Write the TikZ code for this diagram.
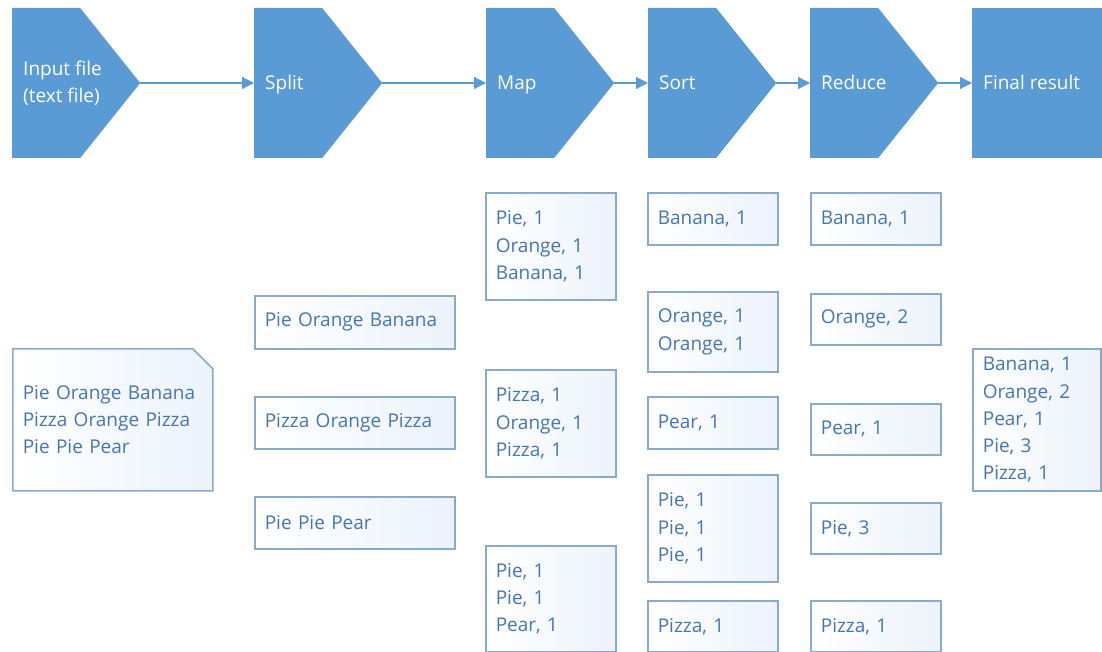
\documentclass[tikz,border=0pt]{standalone}
\usepackage{fontspec}
\setmainfont{Open Sans}
\usetikzlibrary{arrows.meta, shapes.symbols, shapes.misc}

\definecolor{stageblue}{RGB}{91,155,213}
\definecolor{boxline}{RGB}{136,170,207}
\definecolor{boxtext}{RGB}{70,118,178}
\definecolor{boxshade}{RGB}{236,243,251}

\tikzset{
    stage/.style={shape=signal, signal to=east, signal from=nowhere,
        signal pointer angle=102.7, fill=stageblue, draw=none,
        minimum height=150pt, minimum width=128pt, inner sep=0pt, anchor=west},
    stagelast/.style={rectangle, fill=stageblue, draw=none,
        minimum height=150pt, minimum width=130pt, inner sep=0pt, anchor=west},
    stagetext/.style={text=white, anchor=base west, align=left, inner sep=0pt,
        font=\fontsize{19}{27}\selectfont},
    flow/.style={draw=stageblue, line width=1.2pt, -{Triangle[length=12pt, width=12pt]}},
    kv/.style={rectangle, draw=boxline, line width=1.6pt, left color=white,
        right color=boxshade, text=boxtext, align=left, anchor=north west,
        inner xsep=10pt, inner ysep=0pt, text width=110pt,
        font=\fontsize{19}{27.3}\selectfont},
    kvwide/.style={kv, text width=180pt}
}

\begin{document}
\begin{tikzpicture}[x=1pt, y=-1pt]
    \useasboundingbox (0,0) rectangle (1102,652);

    % Stages along the top
    \node[stage] (input) at (12,83) {};
    \node[stage] (split) at (254,83) {};
    \node[stage] (map) at (486,83) {};
    \node[stage] (sort) at (648,83) {};
    \node[stage] (reduce) at (810,83) {};
    \node[stagelast] (final) at (972,83) {};

    \node[stagetext, anchor=west] (input-t) at ([xshift=11pt]input.west) {Input file\\(text file)};
    \node[stagetext] (split-t) at ([xshift=11pt, yshift=-7pt]split.west) {Split};
    \node[stagetext] (map-t) at ([xshift=11pt, yshift=-7pt]map.west) {Map};
    \node[stagetext] (sort-t) at ([xshift=11pt, yshift=-7pt]sort.west) {Sort};
    \node[stagetext] (reduce-t) at ([xshift=11pt, yshift=-7pt]reduce.west) {Reduce};
    \node[stagetext] (final-t) at ([xshift=11pt, yshift=-7pt]final.west) {Final result};

    % Arrows between stages
    \foreach \a/\b in {input/split, split/map, map/sort, sort/reduce, reduce/final}
    {
        \draw[flow] (\a.east) -- (\b.west);
    }

    % Input file
    \node[kvwide, shape=chamfered rectangle, chamfered rectangle corners=north east,
        chamfered rectangle xsep=10pt, chamfered rectangle ysep=10pt,
        inner xsep=0pt, minimum height=142pt] (txt) at (12,348)
        {Pie Orange Banana\\Pizza Orange Pizza\\Pie Pie Pear};

    % Split
    \node[kvwide, minimum height=53pt] (sp1) at (254,295) {Pie Orange Banana};
    \node[kvwide, minimum height=52pt] (sp2) at (254,396) {Pizza Orange Pizza};
    \node[kvwide, minimum height=52pt] (sp3) at (254,496) {Pie Pie Pear};

    % Map
    \node[kv, minimum height=107pt] (mp1) at (485,192) {Pie, 1\\Orange, 1\\Banana, 1};
    \node[kv, minimum height=107pt] (mp2) at (485,369) {Pizza, 1\\Orange, 1\\Pizza, 1};
    \node[kv, minimum height=106pt] (mp3) at (485,545) {Pie, 1\\Pie, 1\\Pear, 1};

    % Sort
    \node[kv, minimum height=52pt] (st1) at (647,192) {Banana, 1};
    \node[kv, minimum height=80pt] (st2) at (647,291) {Orange, 1\\Orange, 1};
    \node[kv, minimum height=52pt] (st3) at (647,396) {Pear, 1};
    \node[kv, minimum height=107pt] (st4) at (647,474) {Pie, 1\\Pie, 1\\Pie, 1};
    \node[kv, minimum height=51pt] (st5) at (647,600) {Pizza, 1};

    % Reduce
    \node[kv, minimum height=52pt] (rd1) at (810,192) {Banana, 1};
    \node[kv, minimum height=51pt] (rd2) at (810,293) {Orange, 2};
    \node[kv, minimum height=51pt] (rd3) at (810,403) {Pear, 1};
    \node[kv, minimum height=51pt] (rd4) at (810,502) {Pie, 3};
    \node[kv, minimum height=51pt] (rd5) at (810,600) {Pizza, 1};

    % Final result
    \node[kv, text width=108pt, minimum height=142pt] (res) at (972,348)
        {Banana, 1\\Orange, 2\\Pear, 1\\Pie, 3\\Pizza, 1};
\end{tikzpicture}
\end{document}
